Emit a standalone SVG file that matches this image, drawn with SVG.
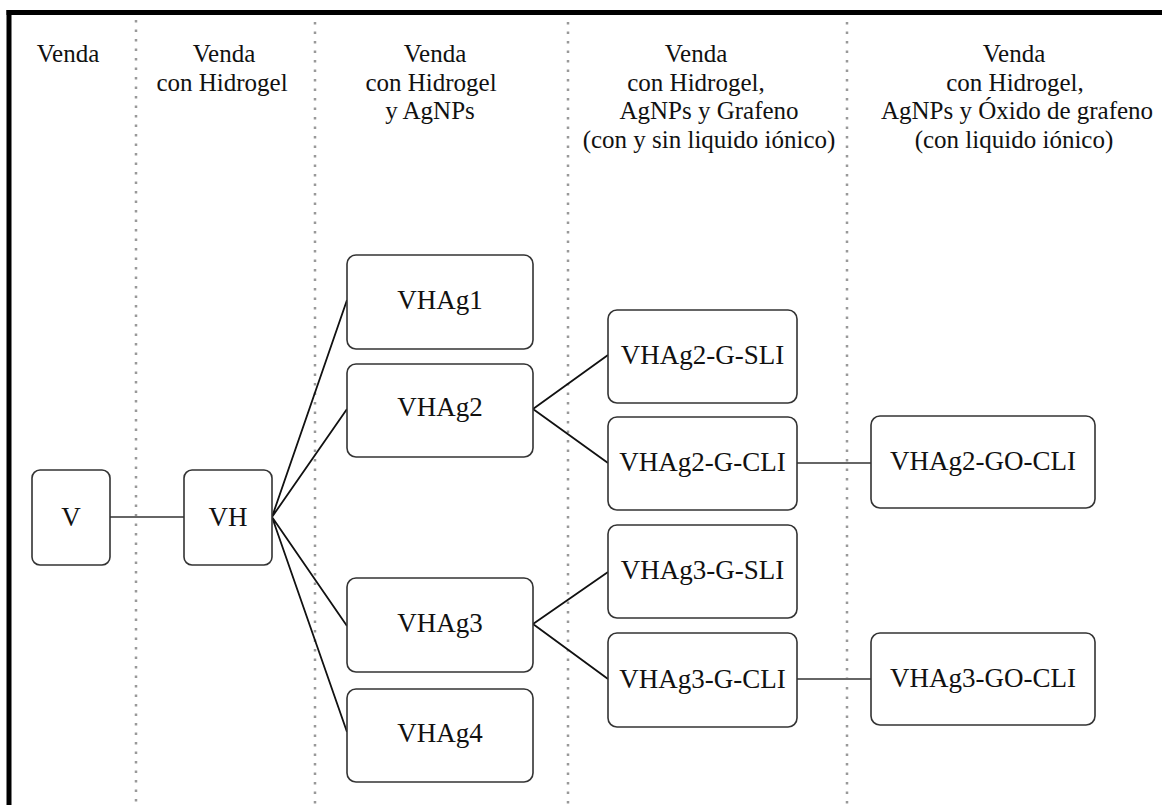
<svg xmlns="http://www.w3.org/2000/svg" width="1162" height="805" viewBox="0 0 1162 805">
<style>
.hd{font-family:'Liberation Serif','Times New Roman',serif;font-size:25px;fill:#111;text-anchor:middle}
.lb{font-family:'Liberation Serif','Times New Roman',serif;font-size:27px;fill:#111;text-anchor:middle}
.box{fill:#fff;stroke:#333;stroke-width:1.6}
.sep{stroke:#999;stroke-width:2.5;stroke-dasharray:2.5 7}
.cb{stroke:#111;stroke-width:1.8;fill:none}
.cg{stroke:#666;stroke-width:2.2;fill:none}
</style>
<rect x="0" y="0" width="1162" height="805" fill="#fff"/>
<g id="frame">
<line x1="6.5" y1="12.5" x2="1162" y2="12.5" stroke="#000" stroke-width="5"/>
<line x1="9" y1="10" x2="9" y2="805" stroke="#000" stroke-width="5"/>
</g>
<g id="separators">
<line class="sep" x1="136" y1="20" x2="136" y2="805"/>
<line class="sep" x1="315" y1="22" x2="315" y2="805"/>
<line class="sep" x1="568" y1="22" x2="568" y2="805"/>
<line class="sep" x1="847" y1="22" x2="847" y2="805"/>
</g>
<g id="headers">
<text class="hd" x="68" y="62">Venda</text>
<text class="hd" x="224" y="62">Venda</text>
<text class="hd" x="222" y="91">con Hidrogel</text>
<text class="hd" x="435" y="62">Venda</text>
<text class="hd" x="431" y="90.5">con Hidrogel</text>
<text class="hd" x="430" y="119">y AgNPs</text>
<text class="hd" x="696" y="62">Venda</text>
<text class="hd" x="696" y="90.5">con Hidrogel,</text>
<text class="hd" x="709" y="119">AgNPs y Grafeno</text>
<text class="hd" x="709" y="147.5">(con y sin liquido iónico)</text>
<text class="hd" x="1014" y="62">Venda</text>
<text class="hd" x="1015" y="90.5">con Hidrogel,</text>
<text class="hd" x="1017" y="119">AgNPs y Óxido de grafeno</text>
<text class="hd" x="1014" y="147.5">(con liquido iónico)</text>
</g>
<g id="connectors">
<line class="cg" x1="110" y1="517" x2="184" y2="517"/>
<path class="cb" d="M272 517 L347 300 M272 517 L347 409 M272 517 L347 626 M272 517 L347 732"/>
<path class="cb" d="M533 409 L608 355 M533 409 L608 463"/>
<path class="cb" d="M533 624 L608 572 M533 624 L608 679"/>
<line class="cg" x1="797" y1="463" x2="871" y2="463"/>
<line class="cg" x1="797" y1="679" x2="871" y2="679"/>
</g>
<g id="node-V"><rect class="box" x="32" y="470" width="78" height="95" rx="8"/><text class="lb" x="71" y="526">V</text></g>
<g id="node-VH"><rect class="box" x="184" y="470" width="88" height="95" rx="8"/><text class="lb" x="228" y="526">VH</text></g>
<g id="node-VHAg1"><rect class="box" x="347" y="255" width="186" height="94" rx="9"/><text class="lb" x="440" y="309">VHAg1</text></g>
<g id="node-VHAg2"><rect class="box" x="347" y="364" width="186" height="93" rx="9"/><text class="lb" x="440" y="416">VHAg2</text></g>
<g id="node-VHAg3"><rect class="box" x="347" y="578" width="186" height="94" rx="9"/><text class="lb" x="440" y="632">VHAg3</text></g>
<g id="node-VHAg4"><rect class="box" x="347" y="689" width="186" height="93" rx="9"/><text class="lb" x="440" y="742">VHAg4</text></g>
<g id="node-VHAg2-G-SLI"><rect class="box" x="608" y="310" width="189" height="93" rx="9"/><text class="lb" x="702.5" y="364">VHAg2-G-SLI</text></g>
<g id="node-VHAg2-G-CLI"><rect class="box" x="608" y="417" width="189" height="93" rx="9"/><text class="lb" x="702.5" y="471">VHAg2-G-CLI</text></g>
<g id="node-VHAg3-G-SLI"><rect class="box" x="608" y="525" width="189" height="93" rx="9"/><text class="lb" x="702.5" y="579">VHAg3-G-SLI</text></g>
<g id="node-VHAg3-G-CLI"><rect class="box" x="608" y="633" width="189" height="94" rx="9"/><text class="lb" x="702.5" y="688">VHAg3-G-CLI</text></g>
<g id="node-VHAg2-GO-CLI"><rect class="box" x="871" y="416" width="224" height="92" rx="9"/><text class="lb" x="983" y="470">VHAg2-GO-CLI</text></g>
<g id="node-VHAg3-GO-CLI"><rect class="box" x="871" y="633" width="224" height="92" rx="9"/><text class="lb" x="983" y="687">VHAg3-GO-CLI</text></g>
</svg>
